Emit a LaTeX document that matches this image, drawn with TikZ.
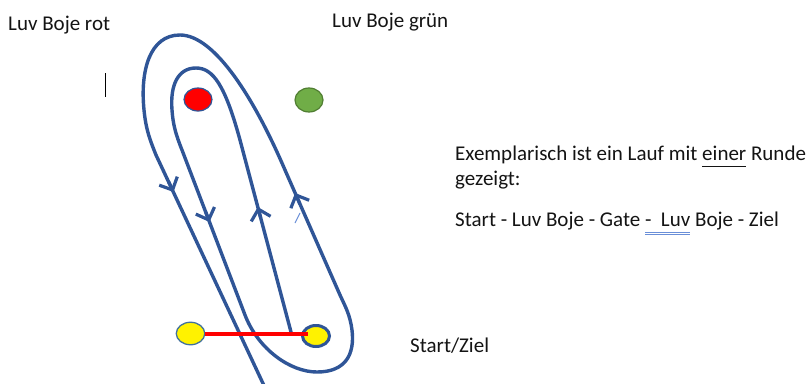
\documentclass[tikz,border=0pt]{standalone}
\usepackage{fontspec}
\setmainfont{Carlito}
\usetikzlibrary{arrows.meta,shapes.geometric}
\definecolor{course}{HTML}{2F5597}
\definecolor{txt}{HTML}{141414}
\definecolor{squig}{HTML}{6A8FD8}
\definecolor{buoygreen}{HTML}{70AD47}
\definecolor{buoygreenline}{HTML}{507E32}
\definecolor{buoyline}{HTML}{41719C}
\newcommand\wordul[1]{\setbox0\hbox{#1}\rlap{\rule[-6.5pt]{\wd0}{1.1pt}}#1}
\newcommand\spellmark[1]{\setbox0\hbox{#1}\rlap{\textcolor{squig}{\rule[-6.6pt]{\wd0}{0.7pt}}}\rlap{\textcolor{squig}{\rule[-8.6pt]{\wd0}{0.7pt}}}#1}
\tikzset{
  courseline/.style={draw=course, line width=3.4pt, line cap=round, line join=round},
  coursearrow/.style={draw=course, line width=3.2pt, -{Straight Barb[length=10pt,width=20pt]}},
  lbl/.style={anchor=base west, inner sep=0pt, text=txt, font=\fontsize{21}{25}\selectfont},
  buoy/.style={ellipse, inner sep=0pt},
}
\begin{document}
\begin{tikzpicture}[x=1pt,y=-1pt]
\useasboundingbox (0,0) rectangle (810,383);
\fill[white] (0,0) rectangle (810,383);
\clip (0,0) rectangle (810,383);

% texts
\node[lbl] (rot) at (8,30) {Luv Boje rot};
\node[lbl] (gruen) at (332,27) {Luv Boje grün};
\node[lbl] (t1) at (455,160.5) {Exemplarisch ist ein Lauf mit \wordul{einer} Runde};
\node[lbl] (t2) at (455,185) {gezeigt:};
\node[lbl] (t3) at (455,226) {Start - Luv Boje - Gate \spellmark{-\ \ Luv} Boje - Ziel};
\node[lbl] (sz) at (410,352) {Start/Ziel};

% text cursor
\coordinate (cur1) at (105,73);
\coordinate (cur2) at (105,97);
\draw[black, line width=1pt] (cur1) -- (cur2);

% course
\draw[courseline]
  (291,332) -- (240,140)
  .. controls (225,85) and (213,68) .. (196,68)
  .. controls (178,68) and (170,85) .. (172,110)
  .. controls (173,125) and (176,135) .. (182,150)
  -- (245,315)
  .. controls (258,349) and (290,372) .. (317,372)
  .. controls (345,372) and (355,355) .. (352,330)
  .. controls (350,315) and (346,308) .. (340,295)
  -- (285,170)
  .. controls (255,100) and (215,35) .. (180,35)
  .. controls (150,35) and (140,70) .. (144,110)
  .. controls (146,130) and (150,140) .. (156,155)
  -- (267,392);

% direction arrows
\coordinate (a1s) at (168.3,181); \coordinate (a1e) at (173.5,192);
\coordinate (a2s) at (205.3,211); \coordinate (a2e) at (209.5,222);
\coordinate (a3s) at (260.7,218); \coordinate (a3e) at (257.8,207);
\coordinate (a4s) at (299.9,204); \coordinate (a4e) at (295.1,193);
\draw[coursearrow] (a1s) -- (a1e);
\draw[coursearrow] (a2s) -- (a2e);
\draw[coursearrow] (a3s) -- (a3e);
\draw[coursearrow] (a4s) -- (a4e);

% stray mark
\coordinate (m1) at (295,223); \coordinate (m2) at (300,213);
\draw[squig, line width=1pt] (m1) -- (m2);

% buoys
\node[buoy, fill=red, draw=course, line width=1.2pt, minimum width=28pt, minimum height=23pt] (red) at (198,99.5) {};
\node[buoy, fill=buoygreen, draw=buoygreenline, line width=1.2pt, minimum width=28pt, minimum height=24pt] (green) at (309,100) {};
\node[buoy, fill=yellow, draw=buoyline, line width=1.3pt, minimum width=28.5pt, minimum height=22.5pt] (lb) at (190.5,333.5) {};
\node[buoy, fill=yellow, draw=course, line width=3pt, minimum width=27pt, minimum height=21pt] (rb) at (316,336) {};

% start line
\draw[red, line width=4pt] (lb.east) -- ([xshift=-8pt]rb.center |- lb.east);
\end{tikzpicture}
\end{document}
